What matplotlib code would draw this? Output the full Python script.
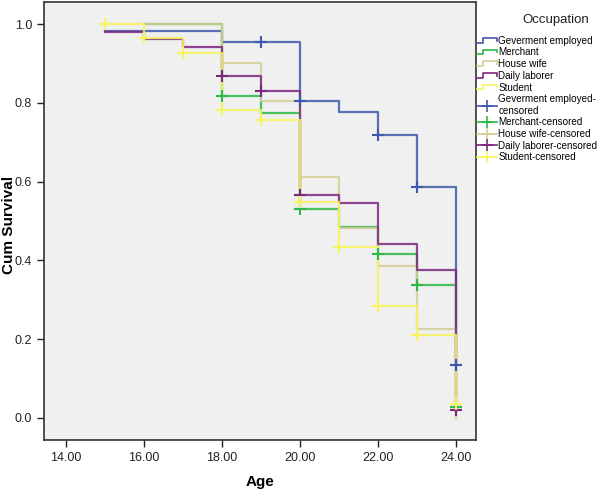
import numpy as np
import matplotlib
matplotlib.use("Agg")
import matplotlib.pyplot as plt
from matplotlib.lines import Line2D
from matplotlib.legend_handler import HandlerBase

plt.rcParams['font.family'] = ['Liberation Sans', 'DejaVu Sans']

# Kaplan-Meier step data (age, cumulative survival after the step)
gov_t = [15, 18, 20, 21, 22, 23, 24]
gov_s = [0.983, 0.955, 0.805, 0.776, 0.718, 0.585, 0.133]
gov_cens = [19, 20, 22, 23, 24]

mer_t = [16, 18, 19, 20, 21, 22, 23, 24]
mer_s = [1.0, 0.817, 0.775, 0.530, 0.485, 0.415, 0.337, 0.027]
mer_cens = [18, 20, 22, 23, 24]

hw_t = [16, 18, 19, 20, 21, 22, 23, 24]
hw_s = [1.0, 0.902, 0.805, 0.611, 0.483, 0.385, 0.225, 0.0]
hw_cens = []

dl_t = [15, 16, 17, 18, 19, 20, 21, 22, 23, 24]
dl_s = [0.980, 0.962, 0.942, 0.868, 0.831, 0.566, 0.546, 0.441, 0.376, 0.019]
dl_cens = [18, 19, 20, 24]

st_t = [15, 16, 17, 18, 19, 20, 21, 22, 23, 24]
st_s = [1.0, 0.965, 0.927, 0.782, 0.755, 0.549, 0.434, 0.283, 0.209, 0.036]
st_cens = [15, 16, 17, 18, 19, 20, 21, 22, 23, 24]

groups = ["Geverment employed", "Merchant", "House wife", "Daily laborer", "Student"]
colors = ['#3E58AC', '#2EB848', '#D3CE97', '#7C287D', '#F8F45E']
series = [(gov_t, gov_s, gov_cens), (mer_t, mer_s, mer_cens), (hw_t, hw_s, hw_cens),
          (dl_t, dl_s, dl_cens), (st_t, st_s, st_cens)]


class StepHandler(HandlerBase):
    # little step glyph like the SPSS legend
    def create_artists(self, legend, orig_handle, xdescent, ydescent, width, height, fontsize, trans):
        x0 = -xdescent
        y0 = -ydescent
        xs = [x0, x0 + 0.3 * width, x0 + 0.3 * width, x0 + width, x0 + width]
        ys = [y0 + 0.15 * height, y0 + 0.15 * height, y0 + 0.85 * height, y0 + 0.85 * height, y0 + 0.45 * height]
        ln = Line2D(xs, ys, color=orig_handle.get_color(), lw=1.2, transform=trans)
        return [ln]


fig = plt.figure(figsize=(6.0, 4.92), dpi=100)
ax = fig.add_axes([0.073, 0.106, 0.72, 0.89])
ax.set_facecolor('#F0F0F0')

for (t, s, cens), c in zip(series, colors):
    ax.step(t, s, where='post', color=c, lw=1.6, alpha=0.85)

for (t, s, cens), c in zip(series, colors):
    if len(cens) == 0:
        continue
    idx = np.searchsorted(t, cens, side='right') - 1
    ax.plot(cens, np.array(s)[idx], linestyle='none', marker='+', color=c,
            markersize=8, markeredgewidth=1.5)

ax.set_xlim(13.44, 24.51)
ax.set_ylim(-0.056, 1.056)
ax.set_xticks([14, 16, 18, 20, 22, 24])
ax.set_xticklabels(["%.2f" % v for v in [14, 16, 18, 20, 22, 24]])
ax.set_yticks([0.0, 0.2, 0.4, 0.6, 0.8, 1.0])
ax.set_yticklabels(["%.1f" % v for v in [0.0, 0.2, 0.4, 0.6, 0.8, 1.0]])
ax.tick_params(direction='out', length=5, width=1, labelsize=9, colors='#222222')
for sp in ax.spines.values():
    sp.set_color('#333333')
    sp.set_linewidth(1.2)

ax.set_xlabel("Age", fontsize=11, fontweight='bold', labelpad=8)
ax.set_ylabel("Cum Survival", fontsize=11, fontweight='bold')
ax.yaxis.set_label_coords(-0.064, 0.49)

handles = []
labels = []
for g, c in zip(groups, colors):
    handles.append(Line2D([], [], color=c))
    labels.append(g)
for g, c in zip(groups, colors):
    handles.append(Line2D([], [], color=c, lw=1.2, marker='+', markersize=9, markeredgewidth=1.2))
    lab = g + "-censored"
    if g == "Geverment employed":
        lab = "Geverment employed-\ncensored"
    labels.append(lab)

fig.text(0.927, 0.959, "Occupation", fontsize=9.5, ha='center', va='center', color='#222222')

leg = ax.legend(handles, labels, loc='upper left', bbox_to_anchor=(1.0, 0.925),
                frameon=False, fontsize=7.1, borderpad=0.0,
                handlelength=2.0, handletextpad=0.2, labelspacing=0.17, borderaxespad=0.1,
                handler_map={h: StepHandler() for h in handles[:5]})

fig.savefig("out.png", dpi=100, facecolor='white')
